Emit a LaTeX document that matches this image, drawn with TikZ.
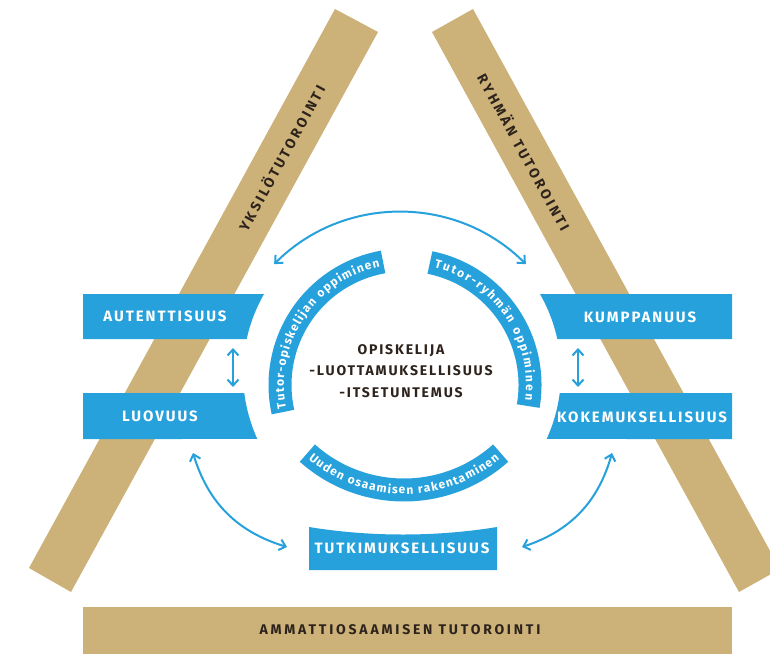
\documentclass[tikz,border=0pt]{standalone}
\usepackage{fontspec}
\setmainfont{Fira Sans}
\newfontfamily\labelfont[LetterSpace=13]{Fira Sans}
\newfontfamily\barfont[LetterSpace=20]{Fira Sans}
\newfontfamily\bandfont{Fira Sans}
\usetikzlibrary{calc,arrows.meta,decorations.text}

\definecolor{tutortan}{RGB}{204,178,120}
\definecolor{tutorblue}{RGB}{38,161,220}
\definecolor{tutorink}{RGB}{45,35,28}

\tikzset{
  boxlabel/.style={text=white, font=\labelfont\bfseries\fontsize{15}{18}\selectfont},
  barlabel/.style={text=tutorink, font=\barfont\bfseries\fontsize{14}{16}\selectfont},
  corelabel/.style={text=tutorink, align=center, font=\labelfont\bfseries\fontsize{14}{21.5}\selectfont},
  link/.style={draw=tutorblue, line width=2pt,
    {Straight Barb[length=6pt,width=11pt]}-{Straight Barb[length=6pt,width=11pt]}},
  band/.style={draw=tutorblue, line width=23pt},
  bandtext/.style={decorate, decoration={text along path, text align={fit to path}, raise=-4pt,
    text={|\bandfont\bfseries\fontsize{12}{14}\selectfont\color{white}|#1}}},
}

\begin{document}
\begin{tikzpicture}[x=1pt,y=-1pt]
      \useasboundingbox (0,0) rectangle (770,654);
      \clip (0,0) rectangle (770,654);
      \fill [white] (0,0) rectangle (770,654);

      \coordinate (ring) at (402,373);
      \coordinate (hub) at (400,390);
      \coordinate (core) at (405,385);
      \coordinate (base) at (404,345);

      \fill [tutortan] (335,9) -- (378,32) -- (71,592) -- (29,568) -- cycle;
      \fill [tutortan] (473,9) -- (432,32) -- (739,592) -- (780,569) -- cycle;
      \fill [tutortan] (83,607) rectangle (732,654);

      \foreach \xa/\ya/\yb/\sa/\ea in {83/294/339/209.79/192.35, 83/393/439/172.77/155.48,
                                       732/294/339/-29.79/-12.35, 732/393/439/7.23/24.52}
        \fill [tutorblue] (\xa,\ya) -- ($(ring)+(\sa:159)$) arc[start angle=\sa, end angle=\ea, radius=159]
          -- (\xa,\yb) -- cycle;
      \fill [tutorblue] (309,527) .. controls (370,537) and (436,537) .. (497,527) -- (497,570) -- (309,570) -- cycle;

      \draw [band] ($(core)+(167.5:125)$) arc[start angle=167.5, end angle=259.9, radius=125];
      \draw [band] ($(core)+(281.5:125)$) arc[start angle=281.5, end angle=369.7, radius=125];
      \draw [band] ($(base)+(131.8:145)$) arc[start angle=131.8, end angle=48.2, radius=145];
      \path [bandtext={Tutor-opiskelijan oppiminen}] ($(core)+(169:125)$) arc[start angle=169, end angle=258, radius=125];
      \path [bandtext={Tutor-ryhmän oppiminen}] ($(core)+(284:125)$) arc[start angle=284, end angle=367, radius=125];
      \path [bandtext={Uuden osaamisen rakentaminen}] ($(base)+(130:145)$) arc[start angle=130, end angle=50, radius=145];

      \node [boxlabel] (aut) at (165,316) {AUTENTTISUUS};
      \node [boxlabel] (luo) at (160,416) {LUOVUUS};
      \node [boxlabel] (kum) at (640,317) {KUMPPANUUS};
      \node [boxlabel] (kok) at (642,417) {KOKEMUKSELLISUUS};
      \node [boxlabel] (tut) at (402,548) {TUTKIMUKSELLISUUS};
      \node [barlabel] (amm) at (400,630) {AMMATTIOSAAMISEN TUTOROINTI};
      \node [barlabel, rotate=61.29] (yks) at (281,158) {YKSILÖTUTOROINTI};
      \node [barlabel, rotate=-61.27] (ryh) at (524.6,152) {RYHMÄN TUTOROINTI};
      \node [corelabel] (opi) at (401,371) {OPISKELIJA\\-LUOTTAMUKSELLISUUS\\-ITSETUNTEMUS};

      \coordinate (topL) at ($(hub)+(225:178)$);
      \coordinate (autS) at (233,348);
      \coordinate (luoN) at (233,387);
      \coordinate (kumS) at (578,348);
      \coordinate (kokN) at (578,387);
      \coordinate (luoS) at (193,453);
      \coordinate (tutW) at (287,547);
      \coordinate (kokS) at (612,453);
      \coordinate (tutE) at (522,547);

      \draw [link] (topL) arc[start angle=225, end angle=315, radius=178];
      \draw [link] (autS) -- (luoN);
      \draw [link] (kumS) -- (kokN);
      \draw [link] (luoS) to[bend right=28] (tutW);
      \draw [link] (kokS) to[bend left=28] (tutE);
    \end{tikzpicture}
\end{document}
